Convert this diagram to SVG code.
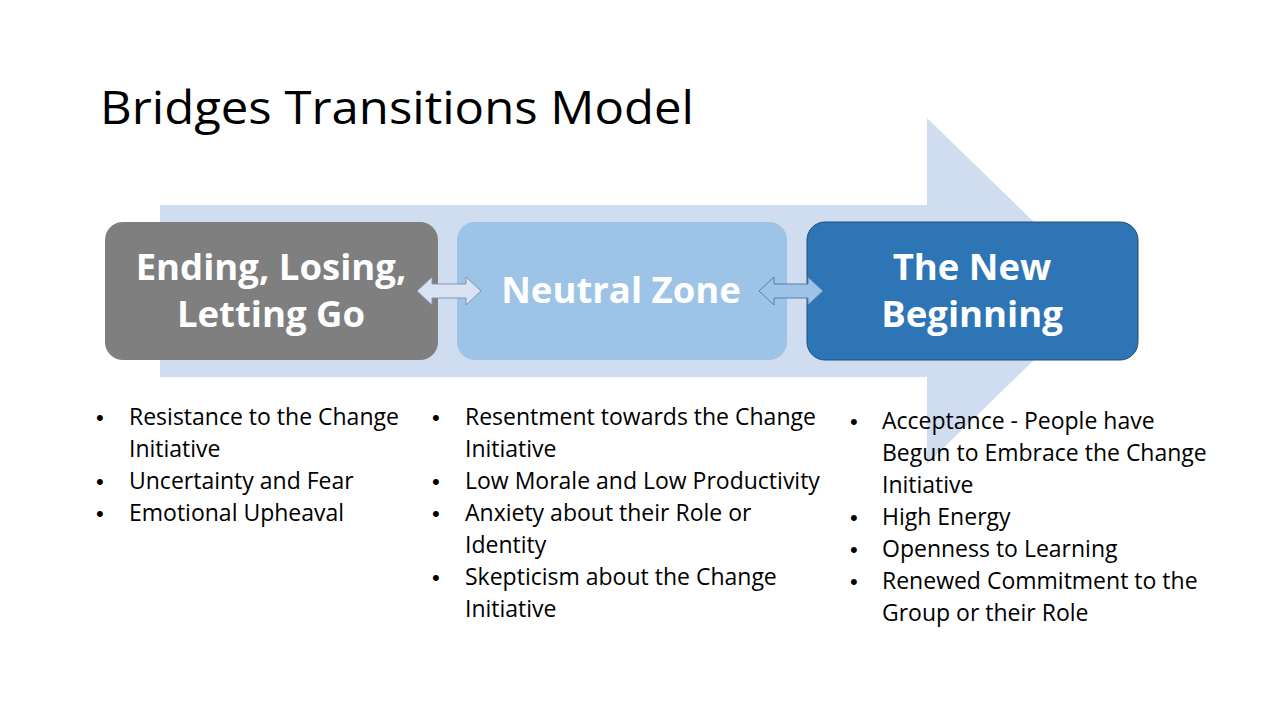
<svg xmlns="http://www.w3.org/2000/svg" width="1280" height="720" viewBox="0 0 1280 720">
<style>
.title{font-family:"Open Sans","Liberation Sans",sans-serif;font-size:46px;fill:#000}
.box{font-family:"Open Sans","Liberation Sans",sans-serif;font-size:36.5px;font-weight:bold;fill:#fff;text-anchor:middle}
.b{font-family:"Open Sans","Liberation Sans",sans-serif;font-size:23px;fill:#000}
.d{font-family:"Liberation Sans",sans-serif;font-size:22px;fill:#000}
</style>
<rect width="1280" height="720" fill="#fff"/>
<text class="title" x="100" y="124" textLength="594" lengthAdjust="spacingAndGlyphs">Bridges Transitions Model</text>
<g id="bigarrow">
<polygon points="160,205 927,205 927,118 1105,291 927,464 927,377 160,377" fill="#d0dcef"/>
</g>
<g id="node1">
<rect x="105" y="222" width="333" height="138" rx="18" fill="#7f7f7f"/>
<text class="box" x="271" y="280">Ending, Losing,</text>
<text class="box" x="271" y="327">Letting Go</text>
</g>
<g id="node2">
<rect x="457" y="222" width="330" height="138" rx="18" fill="#9dc3e6"/>
<text class="box" x="621" y="303">Neutral Zone</text>
</g>
<g id="node3">
<rect x="807" y="222" width="331" height="138" rx="18" fill="#2e75b6" stroke="#1f4e79" stroke-width="1"/>
<text class="box" x="972" y="280">The New</text>
<text class="box" x="972" y="327">Beginning</text>
</g>
<g id="connectors">
<polygon points="417,291 432,277 432,284 466,284 466,277 481,291 466,305 466,298 432,298 432,305" fill="#dae3f3" stroke="#8497b0" stroke-width="1"/>
<polygon points="759,291 774,277 774,284 808,284 808,277 823,291 808,305 808,298 774,298 774,305" fill="#9dc3e6" stroke="#5b7fa6" stroke-width="1"/>
</g>
<g id="list1">
<text class="d" x="96" y="425">•</text><text class="b" x="129" y="425">Resistance to the Change</text>
<text class="b" x="129" y="457">Initiative</text>
<text class="d" x="96" y="489">•</text><text class="b" x="129" y="489">Uncertainty and Fear</text>
<text class="d" x="96" y="521">•</text><text class="b" x="129" y="521">Emotional Upheaval</text>
</g>
<g id="list2">
<text class="d" x="432" y="425">•</text><text class="b" x="465" y="425">Resentment towards the Change</text>
<text class="b" x="465" y="457">Initiative</text>
<text class="d" x="432" y="489">•</text><text class="b" x="465" y="489">Low Morale and Low Productivity</text>
<text class="d" x="432" y="521">•</text><text class="b" x="465" y="521">Anxiety about their Role or</text>
<text class="b" x="465" y="553">Identity</text>
<text class="d" x="432" y="585">•</text><text class="b" x="465" y="585">Skepticism about the Change</text>
<text class="b" x="465" y="617">Initiative</text>
</g>
<g id="list3">
<text class="d" x="850" y="429">•</text><text class="b" x="882" y="429">Acceptance - People have</text>
<text class="b" x="882" y="461">Begun to Embrace the Change</text>
<text class="b" x="882" y="493">Initiative</text>
<text class="d" x="850" y="525">•</text><text class="b" x="882" y="525">High Energy</text>
<text class="d" x="850" y="557">•</text><text class="b" x="882" y="557">Openness to Learning</text>
<text class="d" x="850" y="589">•</text><text class="b" x="882" y="589">Renewed Commitment to the</text>
<text class="b" x="882" y="621">Group or their Role</text>
</g>
</svg>
